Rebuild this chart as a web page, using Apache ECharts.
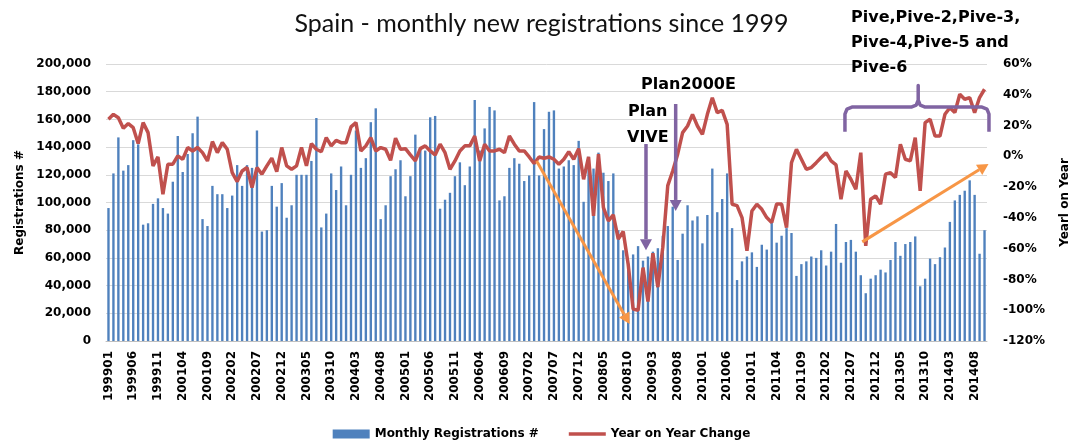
<!DOCTYPE html>
<html>
<head>
<meta charset="utf-8">
<title>Spain - monthly new registrations since 1999</title>
<script src="https://cdn.jsdelivr.net/npm/echarts@6/dist/echarts.min.js"></script>
<style>
  html, body { margin: 0; padding: 0; background: #fff; }
  #chart { width: 1083px; height: 442px; }
</style>
</head>
<body>
<div id="chart"></div>
<script>
// month labels as they appear in the source sheet (no 2000 rows)
const months = [
  '199901','199902','199903','199904','199905','199906','199907','199908','199909','199910','199911','199912',
  '200101','200102','200103','200104','200105','200106','200107','200108','200109','200110','200111','200112',
  '200201','200202','200203','200204','200205','200206','200207','200208','200209','200210','200211','200212',
  '200301','200302','200303','200304','200305','200306','200307','200308','200309','200310','200311','200312',
  '200401','200402','200403','200404','200405','200406','200407','200408','200409','200410','200411','200412',
  '200501','200502','200503','200504','200505','200506','200507','200508','200509','200510','200511','200512',
  '200601','200602','200603','200604','200605','200606','200607','200608','200609','200610','200611','200612',
  '200701','200702','200703','200704','200705','200706','200707','200708','200709','200710','200711','200712',
  '200801','200802','200803','200804','200805','200806','200807','200808','200809','200810','200811','200812',
  '200901','200902','200903','200904','200905','200906','200907','200908','200909','200910','200911','200912',
  '201001','201002','201003','201004','201005','201006','201007','201008','201009','201010','201011','201012',
  '201101','201102','201103','201104','201105','201106','201107','201108','201109','201110','201111','201112',
  '201201','201202','201203','201204','201205','201206','201207','201208','201209','201210','201211','201212',
  '201301','201302','201303','201304','201305','201306','201307','201308','201309','201310','201311','201312',
  '201401','201402','201403','201404','201405','201406','201407','201408','201409','201410'
];

const registrations = [
  96000, 121000, 147000, 123000, 127000, 145000, 142000, 84000, 85000, 99000, 103000, 96000,
  92000, 115000, 148000, 122000, 135000, 150000, 162000, 88000, 83000, 112000, 106000, 106000,
  96000, 105000, 127000, 112000, 127000, 125000, 152000, 79000, 80000, 112000, 97000, 114000,
  89000, 98000, 120000, 120000, 120000, 130000, 161000, 82000, 92000, 121000, 109000, 126000,
  98000, 120000, 152000, 125000, 132000, 158000, 168000, 88000, 98000, 119000, 124000,
  130500, 104500, 119000, 149000, 139500, 137500, 161500, 162500, 95500, 102000, 107000, 119000,
  129000, 112500, 126000, 174000, 137500, 153500, 169000, 166500, 101500, 104500, 125000, 132000,
  128000, 115500, 119500, 172500, 119500, 153000, 165500, 166500, 124500, 126000, 130500, 127000,
  144500, 100500, 133000, 124500, 136000, 121500, 115500, 121000, 80000, 65500, 56000, 62500,
  68500, 58000, 61000,
  64500,
  67000, 76000, 83000, 97000, 58500, 77500, 98000, 87000, 90000, 70500, 91000, 124500,
  93000, 102500, 121000, 81500, 44000, 57500, 61000, 64000, 53500, 69500, 66000, 86000,
  71000, 76000, 81500, 78000, 47000, 55500, 57500, 61000, 60000,
  65500, 54500, 64500, 84500, 56500, 71500, 73000, 64500, 47500, 34500, 45000, 47500,
  51500, 49500, 58500, 71500, 61500, 70000, 71500, 75500, 39500, 45000, 59500, 55500,
  60500, 67500, 86000, 101500, 105500, 108500, 116000, 105500, 63000, 80000
];

// year on year change, %
const yoyChange = [
  24.1, 27.3, 25.1, 18.2, 21.3, 18.6, 8.3, 21.9, 15.4, -6.2, -0.4, -24.6,
  -5.1, -5.1, 0.3, -1.9, 5.7, 3.5, 5.7, 2.4, -3, 9.6, 2.4, 8.9,
  4.6, -10.6, -16.4, -9.5, -7.3, -20.3, -7.3, -11.6, -6.2, -1.2, -9.9, 5.7,
  -6.2, -8.4, -6.2, 5.7, -6.2, 8.3, 4.6, 3, 12.2, 6.8, 10.4, 8.9,
  8.9, 19.1, 21.9, 3.5, 6.8, 12.2, 3.5, 5.7, 4.6, -2.6, 11.8,
  4.6, 5, 0.9, -3, 5, 6.8, 3.5, 0.9, 7.9, 2.4, -8.4, -3,
  3.5, 6.8, 6.8, 13.2, -3, 7.9, 3.5, 3.5, 4.6, 2.4, 13.2, 7.9,
  3.5, 3.5, -0.4, -4.7, -0.4, -1.2, -0.4, -1.9, -5.1, -1.9, 3, -1.9,
  5, -14.9, -0.4, -38.7, 1.4, -33.3, -42, -38.1, -53.8, -48.9, -70.1, -99.3,
  -100, -72.3, -94.4,
  -63, -85, -59, -19, -9.5, 1.4, 15.4, 19.7, 27.3, 19.7, 14.3, 27.3,
  38.1, 28.4, 29.9, 20.8, -31.1, -32, -39.8, -61.4, -35.5, -31.1, -34.4, -39.8,
  -43, -31, -31, -46.3, -4.1, 4.6, -1.9, -8.4, -7.3, -4.1,
  -0.8, 2.4, -3, -5.6, -27.9, -9.5, -14.9, -21.4, 2.4, -58.2, -27.9, -25.7,
  -31.1, -11.6, -10.6, -13.8, 7.9, -1.9, -3, 12.2, -22.5, 21.9, 24.1, 13.2,
  13.2, 27.3, 31.6, 28.4, 40.3, 37.1, 38.2, 28.4, 38.2, 43.6
];

const regTicks = [0, 20000, 40000, 60000, 80000, 100000, 120000, 140000, 160000, 180000, 200000];
const yoyTicks = [-120, -100, -80, -60, -40, -20, 0, 20, 40, 60];

// annotations, in [month index, yoy %] terms
const arrowNotes = [
  { from: [86.5, -3], to: [105.3, -109], color: '#f79646', width: 3 },
  { from: [152.3, -55.6], to: [177.8, -5], color: '#f79646', width: 3 },
  { from: [108.6, 8], to: [108.6, -61], color: '#8064a2', width: 3.5 },
  { from: [114.6, 34], to: [114.6, -35.5], color: '#8064a2', width: 3.5 }
];
const braceNote = { from: 148.8, to: 177.9, tip: 163.6, line: 32, ends: 16, top: 46 };
const textNotes = [
  { text: 'Plan2000E', x: 641, y: 85 },
  { text: 'Plan', x: 628, y: 112 },
  { text: 'VIVE', x: 627, y: 138 },
  { text: 'Pive,Pive-2,Pive-3,', x: 851, y: 18 },
  { text: 'Pive-4,Pive-5 and', x: 851, y: 43 },
  { text: 'Pive-6', x: 851, y: 68 }
];

const labelFont = 'DejaVu Sans';
const chart = echarts.init(document.getElementById('chart'));

chart.setOption({
  animation: false,
  backgroundColor: '#fff',
  title: {
    text: 'Spain - monthly new registrations since 1999',
    left: 'center',
    top: 6,
    textStyle: { fontFamily: 'Lato', fontSize: 25, fontWeight: 'normal', color: '#111' }
  },
  legend: {
    top: 423,
    left: 'center',
    itemWidth: 37,
    itemHeight: 9,
    itemGap: 30,
    textStyle: { fontFamily: labelFont, fontWeight: 'bold', fontSize: 12, color: '#000' },
    data: [
      { name: 'Monthly Registrations #', icon: 'rect' },
      { name: 'Year on Year Change', icon: 'path://M0,0 L100,0 L100,10 L0,10 Z' }
    ]
  },
  grid: { left: 106, right: 96, top: 64, bottom: 101, containLabel: false },
  xAxis: {
    type: 'category',
    data: months,
    axisLine: { lineStyle: { color: '#bfbfbf' } },
    axisTick: { show: false },
    axisLabel: {
      interval: 4,
      rotate: 90,
      margin: 10,
      color: '#000',
      fontFamily: labelFont,
      fontWeight: 'bold',
      fontSize: 12
    }
  },
  yAxis: [
    {
      type: 'value',
      min: regTicks[0],
      max: regTicks[regTicks.length - 1],
      interval: regTicks[1] - regTicks[0],
      name: 'Registrations #',
      nameLocation: 'middle',
      nameRotate: 90,
      nameGap: 79,
      nameTextStyle: { fontFamily: labelFont, fontWeight: 'bold', fontSize: 12, color: '#000' },
      axisLine: { show: false },
      axisTick: { show: false },
      axisLabel: {
        margin: 15,
        color: '#000',
        fontFamily: labelFont,
        fontWeight: 'bold',
        fontSize: 12,
        formatter: (v) => v.toLocaleString('en-US')
      },
      splitLine: { lineStyle: { color: '#d9d9d9', width: 1 } }
    },
    {
      type: 'value',
      min: yoyTicks[0],
      max: yoyTicks[yoyTicks.length - 1],
      interval: yoyTicks[1] - yoyTicks[0],
      alignTicks: false,
      name: 'Yearl on Year',
      nameLocation: 'middle',
      nameRotate: 90,
      nameGap: 72,
      nameTextStyle: { fontFamily: labelFont, fontWeight: 'bold', fontSize: 12, color: '#000' },
      axisLine: { show: false },
      axisTick: { show: false },
      axisLabel: {
        margin: 16,
        color: '#000',
        fontFamily: labelFont,
        fontWeight: 'bold',
        fontSize: 12,
        formatter: '{value}%'
      },
      splitLine: { show: false }
    }
  ],
  series: [
    {
      name: 'Monthly Registrations #',
      type: 'bar',
      data: registrations,
      barWidth: '48%',
      itemStyle: { color: '#4f81bd' }
    },
    {
      name: 'Year on Year Change',
      type: 'line',
      yAxisIndex: 1,
      data: yoyChange,
      symbol: 'none',
      smooth: false,
      lineStyle: { color: '#c0504d', width: 3.5 },
      itemStyle: { color: '#c0504d' }
    }
  ]
});

function drawNotes() {
  const a = chart.convertToPixel({ seriesIndex: 1 }, [0, 0]);
  const b = chart.convertToPixel({ seriesIndex: 1 }, [1, 0]);
  const step = b[0] - a[0];
  const pt = (idx, pct) => [a[0] + idx * step, chart.convertToPixel({ seriesIndex: 1 }, [0, pct])[1]];

  const elements = [];

  arrowNotes.forEach((n) => {
    const p1 = pt(n.from[0], n.from[1]);
    const p2 = pt(n.to[0], n.to[1]);
    const dx = p2[0] - p1[0], dy = p2[1] - p1[1];
    const len = Math.sqrt(dx * dx + dy * dy);
    const ux = dx / len, uy = dy / len;
    const head = 11, half = 6;
    const bx = p2[0] - ux * head, by = p2[1] - uy * head;
    elements.push({
      type: 'line', z: 100,
      shape: { x1: p1[0], y1: p1[1], x2: bx, y2: by },
      style: { stroke: n.color, lineWidth: n.width }
    });
    elements.push({
      type: 'polygon', z: 100,
      shape: { points: [p2, [bx - uy * half, by + ux * half], [bx + uy * half, by - ux * half]] },
      style: { fill: n.color }
    });
  });

  const xl = pt(braceNote.from, 0)[0];
  const xr = pt(braceNote.to, 0)[0];
  const xt = pt(braceNote.tip, 0)[0];
  const yl = pt(0, braceNote.line)[1];
  const ye = pt(0, braceNote.ends)[1];
  const yt = pt(0, braceNote.top)[1];
  elements.push({
    type: 'polyline', z: 100,
    shape: {
      points: [
        [xl, ye], [xl, yl + 7], [xl + 2, yl + 2], [xl + 7, yl],
        [xt - 7, yl], [xt - 2, yl - 2], [xt, yl - 7], [xt, yt],
        [xt, yl - 7], [xt + 2, yl - 2], [xt + 7, yl],
        [xr - 7, yl], [xr - 2, yl + 2], [xr, yl + 7], [xr, ye]
      ]
    },
    style: { stroke: '#8064a2', lineWidth: 3.5, fill: null, lineJoin: 'round' }
  });

  textNotes.forEach((t) => {
    elements.push({
      type: 'text', z: 110,
      x: t.x, y: t.y,
      style: {
        text: t.text,
        font: 'bold 16px "DejaVu Sans"',
        fill: '#000',
        verticalAlign: 'middle'
      }
    });
  });

  chart.setOption({ graphic: { elements } });
}

drawNotes();
window.addEventListener('resize', () => {
  chart.resize();
  drawNotes();
});
</script>
</body>
</html>
